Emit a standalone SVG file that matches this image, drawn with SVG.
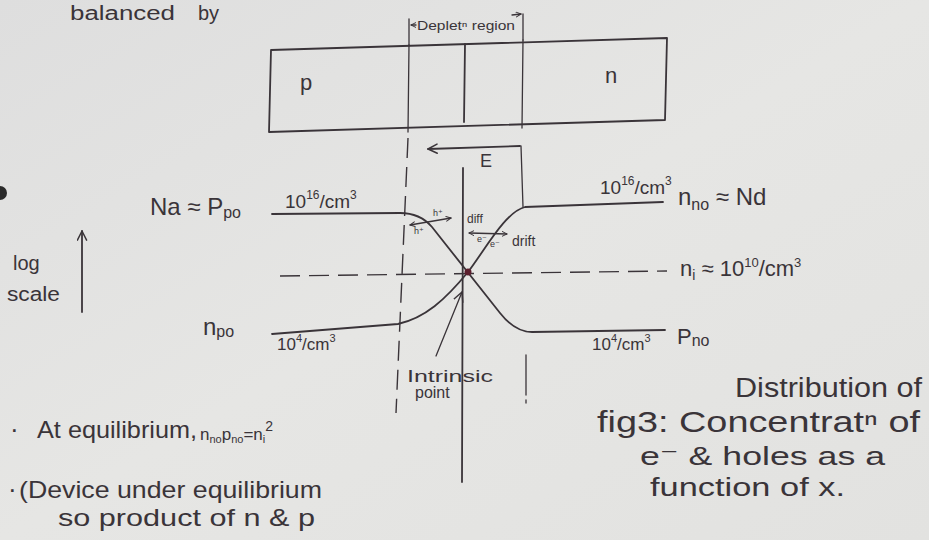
<svg xmlns="http://www.w3.org/2000/svg" width="929" height="540" viewBox="0 0 929 540">
<defs>
<linearGradient id="paper" x1="0" y1="0" x2="1" y2="1">
<stop offset="0" stop-color="#dedede"/>
<stop offset="0.5" stop-color="#e6e6e4"/>
<stop offset="1" stop-color="#e2e2e0"/>
</linearGradient>
<marker id="open" viewBox="0 0 12 12" refX="11" refY="6" markerWidth="11" markerHeight="11" orient="auto-start-reverse" markerUnits="userSpaceOnUse">
<path d="M1,1 L11,6 L1,11" fill="none" stroke="#3a3439" stroke-width="1.6" stroke-linecap="round" stroke-linejoin="round"/>
</marker>
<marker id="small" viewBox="0 0 10 10" refX="9" refY="5" markerWidth="6" markerHeight="6" orient="auto-start-reverse" markerUnits="userSpaceOnUse">
<path d="M1,1 L9,5 L1,9" fill="none" stroke="#3a3439" stroke-width="1.6" stroke-linecap="round" stroke-linejoin="round"/>
</marker>
</defs>
<style>
.ink{fill:none;stroke:#3a3439;stroke-width:1.8;stroke-linecap:round;stroke-linejoin:round}
.thin{fill:none;stroke:#3a3439;stroke-width:1.3;stroke-linecap:round}
.dash{fill:none;stroke:#3a3439;stroke-width:1.4;stroke-dasharray:20 9}
.t{font-family:"Liberation Sans","DejaVu Sans",sans-serif;fill:#3a3439}
</style>
<rect x="0" y="0" width="929" height="540" fill="url(#paper)"/>
<circle cx="0" cy="193" r="7" fill="#2a2a2a"/>

<!-- top text (partly cut in the photo) -->
<text class="t" x="70" y="20" font-size="20" textLength="105" lengthAdjust="spacingAndGlyphs">balanced</text>
<text class="t" x="198" y="20" font-size="20">by</text>

<g id="device">
<polygon class="ink" points="271,50 667,38 665,120 269,132"/>
<text class="t" x="300" y="90" font-size="22">p</text>
<text class="t" x="605" y="83" font-size="22">n</text>
</g>

<g id="depletion-label">
<line class="thin" x1="409" y1="19" x2="409" y2="45"/>
<line class="thin" x1="416" y1="25" x2="411" y2="25" marker-end="url(#small)"/>
<text class="t" x="417" y="30" font-size="13" textLength="98" lengthAdjust="spacingAndGlyphs">Depletⁿ region</text>
<line class="thin" x1="512" y1="15" x2="521" y2="14" marker-end="url(#small)"/>
<line class="thin" x1="523" y1="14" x2="523" y2="40"/>
</g>

<g id="connectors">
<!-- boundaries inside device -->
<line class="thin" x1="409" y1="45" x2="408" y2="132"/>
<line class="ink" x1="465" y1="44" x2="464" y2="122"/>
<line class="thin" x1="523" y1="40" x2="522" y2="128"/>
<!-- left dashed depletion boundary -->
<line class="dash" x1="408" y1="138" x2="396" y2="413"/>
<!-- right boundary lower -->
<line class="thin" x1="526" y1="355" x2="526" y2="395"/>
<line class="thin" x1="526" y1="400" x2="526" y2="403"/>
<!-- E field -->
<line class="ink" x1="520" y1="146" x2="428" y2="149" marker-end="url(#open)"/>
<line class="thin" x1="521" y1="146" x2="523" y2="207"/>
<!-- central axis -->
<line class="ink" x1="463" y1="168" x2="462" y2="482"/>
<!-- n_i dashed -->
<line class="dash" x1="280" y1="276" x2="667" y2="271"/>
<!-- hole concentration -->
<path class="ink" d="M272,214 L400,213 Q420,213 432,227 L500,313 Q515,332 532,332 L665,330"/>
<!-- electron concentration -->
<path class="ink" d="M272,334 L398,324 C425,318 445,300 468,272 C485,250 505,212 525,207 L663,202"/>
<!-- diffusion / drift arrows -->
<line class="thin" x1="410" y1="225" x2="451" y2="218" marker-start="url(#small)" marker-end="url(#small)"/>
<line class="thin" x1="469" y1="233" x2="507" y2="234" marker-start="url(#small)" marker-end="url(#small)"/>
<!-- log scale axis -->
<line class="ink" x1="82" y1="312" x2="82" y2="231" marker-end="url(#open)"/>
<!-- pointer to intrinsic point -->
<line class="thin" x1="436" y1="356" x2="462" y2="292" marker-end="url(#open)"/>
</g>

<g id="intrinsic-point">
<circle cx="468" cy="272" r="3.5" fill="#5b1f2e"/>
<text class="t" x="407" y="382" font-size="16" textLength="86" lengthAdjust="spacingAndGlyphs">Intrinsic</text>
<text class="t" x="415" y="398" font-size="16">point</text>
</g>

<g id="labels">
<text class="t" x="480" y="167" font-size="18">E</text>
<text class="t" x="150" y="215" font-size="24">Na ≈ P<tspan font-size="16" dy="3">po</tspan></text>
<text class="t" x="285" y="208" font-size="19">10<tspan font-size="12" dy="-9">16</tspan><tspan dy="9">/cm</tspan><tspan font-size="12" dy="-9">3</tspan></text>
<text class="t" x="600" y="194" font-size="19">10<tspan font-size="12" dy="-9">16</tspan><tspan dy="9">/cm</tspan><tspan font-size="12" dy="-9">3</tspan></text>
<text class="t" x="678" y="205" font-size="24">n<tspan font-size="16" dy="5">no</tspan><tspan dy="-5"> ≈ Nd</tspan></text>
<text class="t" x="680" y="276" font-size="22">n<tspan font-size="14" dy="4">i</tspan><tspan dy="-4"> ≈ 10</tspan><tspan font-size="13" dy="-9">10</tspan><tspan dy="9">/cm</tspan><tspan font-size="13" dy="-9">3</tspan></text>
<text class="t" x="203" y="335" font-size="24">n<tspan font-size="16" dy="2">po</tspan></text>
<text class="t" x="277" y="350" font-size="17">10<tspan font-size="11" dy="-8">4</tspan><tspan dy="8">/cm</tspan><tspan font-size="11" dy="-8">3</tspan></text>
<text class="t" x="592" y="350" font-size="17">10<tspan font-size="11" dy="-8">4</tspan><tspan dy="8">/cm</tspan><tspan font-size="11" dy="-8">3</tspan></text>
<text class="t" x="677" y="344" font-size="22">P<tspan font-size="16" dy="2">no</tspan></text>
<text class="t" x="13" y="270" font-size="20">log</text>
<text class="t" x="7" y="301" font-size="20" textLength="53" lengthAdjust="spacingAndGlyphs">scale</text>
<text class="t" x="433" y="216" font-size="9">h⁺</text>
<text class="t" x="414" y="234" font-size="9">h⁺</text>
<text class="t" x="467" y="223" font-size="12">diff</text>
<text class="t" x="477" y="242" font-size="9">e⁻</text>
<text class="t" x="490" y="247" font-size="9">e⁻</text>
<text class="t" x="512" y="246" font-size="14">drift</text>
</g>

<g id="notes">
<text class="t" x="10" y="438" font-size="26">·</text>
<text class="t" x="37" y="438" font-size="24" textLength="160" lengthAdjust="spacingAndGlyphs">At equilibrium,</text>
<text class="t" x="200" y="440" font-size="17">n<tspan font-size="11" dy="3">no</tspan><tspan dy="-3">p</tspan><tspan font-size="11" dy="3">no</tspan><tspan dy="-3">=n</tspan><tspan font-size="11" dy="3">i</tspan><tspan font-size="14" dy="-12">2</tspan></text>
<text class="t" x="8" y="498" font-size="26">·</text>
<text class="t" x="19" y="498" font-size="24" textLength="303" lengthAdjust="spacingAndGlyphs">(Device under equilibrium</text>
<text class="t" x="58" y="526" font-size="24" textLength="257" lengthAdjust="spacingAndGlyphs">so product of n &amp; p</text>
</g>

<g id="caption">
<text class="t" x="735" y="397" font-size="27" textLength="187" lengthAdjust="spacingAndGlyphs">Distribution of</text>
<text class="t" x="597" y="432" font-size="30" textLength="323" lengthAdjust="spacingAndGlyphs">fig3: Concentratⁿ of</text>
<text class="t" x="640" y="465" font-size="26" textLength="245" lengthAdjust="spacingAndGlyphs">e⁻ &amp; holes as a</text>
<text class="t" x="650" y="496" font-size="26" textLength="195" lengthAdjust="spacingAndGlyphs">function of x.</text>
</g>
</svg>
